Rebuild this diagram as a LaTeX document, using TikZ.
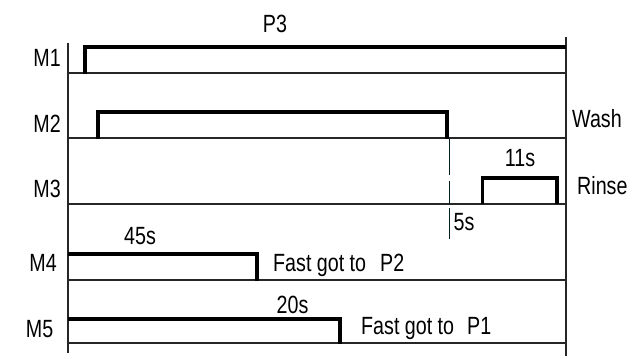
\documentclass[tikz,border=0pt]{standalone}
\usepackage{fontspec}
\setmainfont{Liberation Sans}[FakeStretch=0.79]
\begin{document}
\begin{tikzpicture}[x=1bp,y=-1bp,
  axisline/.style={line width=1.1bp, draw=black!85},
  sig/.style={line width=3.5bp, line join=miter},
  marker/.style={line width=1bp, draw=black!75!teal},
  lbl/.style={font=\fontsize{25}{30}\selectfont, inner sep=0pt},
]
\useasboundingbox (0,0) rectangle (636,358);
% frame and baselines
\draw[axisline] (68,43) -- (68,353);
\draw[axisline] (566,37) -- (566,356);
\foreach \y in {73,138,204,280,343} \draw[axisline] (68,\y) -- (566,\y);
% signals
\draw[sig] (85,74) -- (85,47) -- (566,47);
\draw[sig] (98,139) -- (98,112) -- (447,112) -- (447,139);
\draw[sig] (482.5,204) -- (482.5,178) -- (557,178) -- (557,204);
\draw[sig] (68,254) -- (257,254) -- (257,281);
\draw[sig] (68,319) -- (340,319) -- (340,344);
% 5s marker
\draw[marker] (449,138) -- (449,175) (449,181) -- (449,204) (449,208) -- (449,239);
% labels
\node[lbl, anchor=base] (p3) at (275,32) {P3};
\node[lbl, anchor=base east] (m1) at (61,66) {M1};
\node[lbl, anchor=base east] (m2) at (61,132) {M2};
\node[lbl, anchor=base east] (m3) at (61,197) {M3};
\node[lbl, anchor=base east] (m4) at (57,271) {M4};
\node[lbl, anchor=base east] (m5) at (53.5,337) {M5};
\node[lbl, anchor=base west] (wash) at (572,127.5) {Wash};
\node[lbl, anchor=base] (t11) at (520,166.5) {11s};
\node[lbl, anchor=base west] (rinse) at (577,194) {Rinse};
\node[lbl, anchor=base west] (t5) at (453.5,230) {5s};
\node[lbl, anchor=base] (t45) at (140,244) {45s};
\node[lbl, anchor=base west] (fp2) at (273,271.5) {Fast got to\hspace{14bp}P2};
\node[lbl, anchor=base] (t20) at (292.5,313) {20s};
\node[lbl, anchor=base west] (fp1) at (361,334.5) {Fast got to\hspace{13bp}P1};
\end{tikzpicture}
\end{document}
